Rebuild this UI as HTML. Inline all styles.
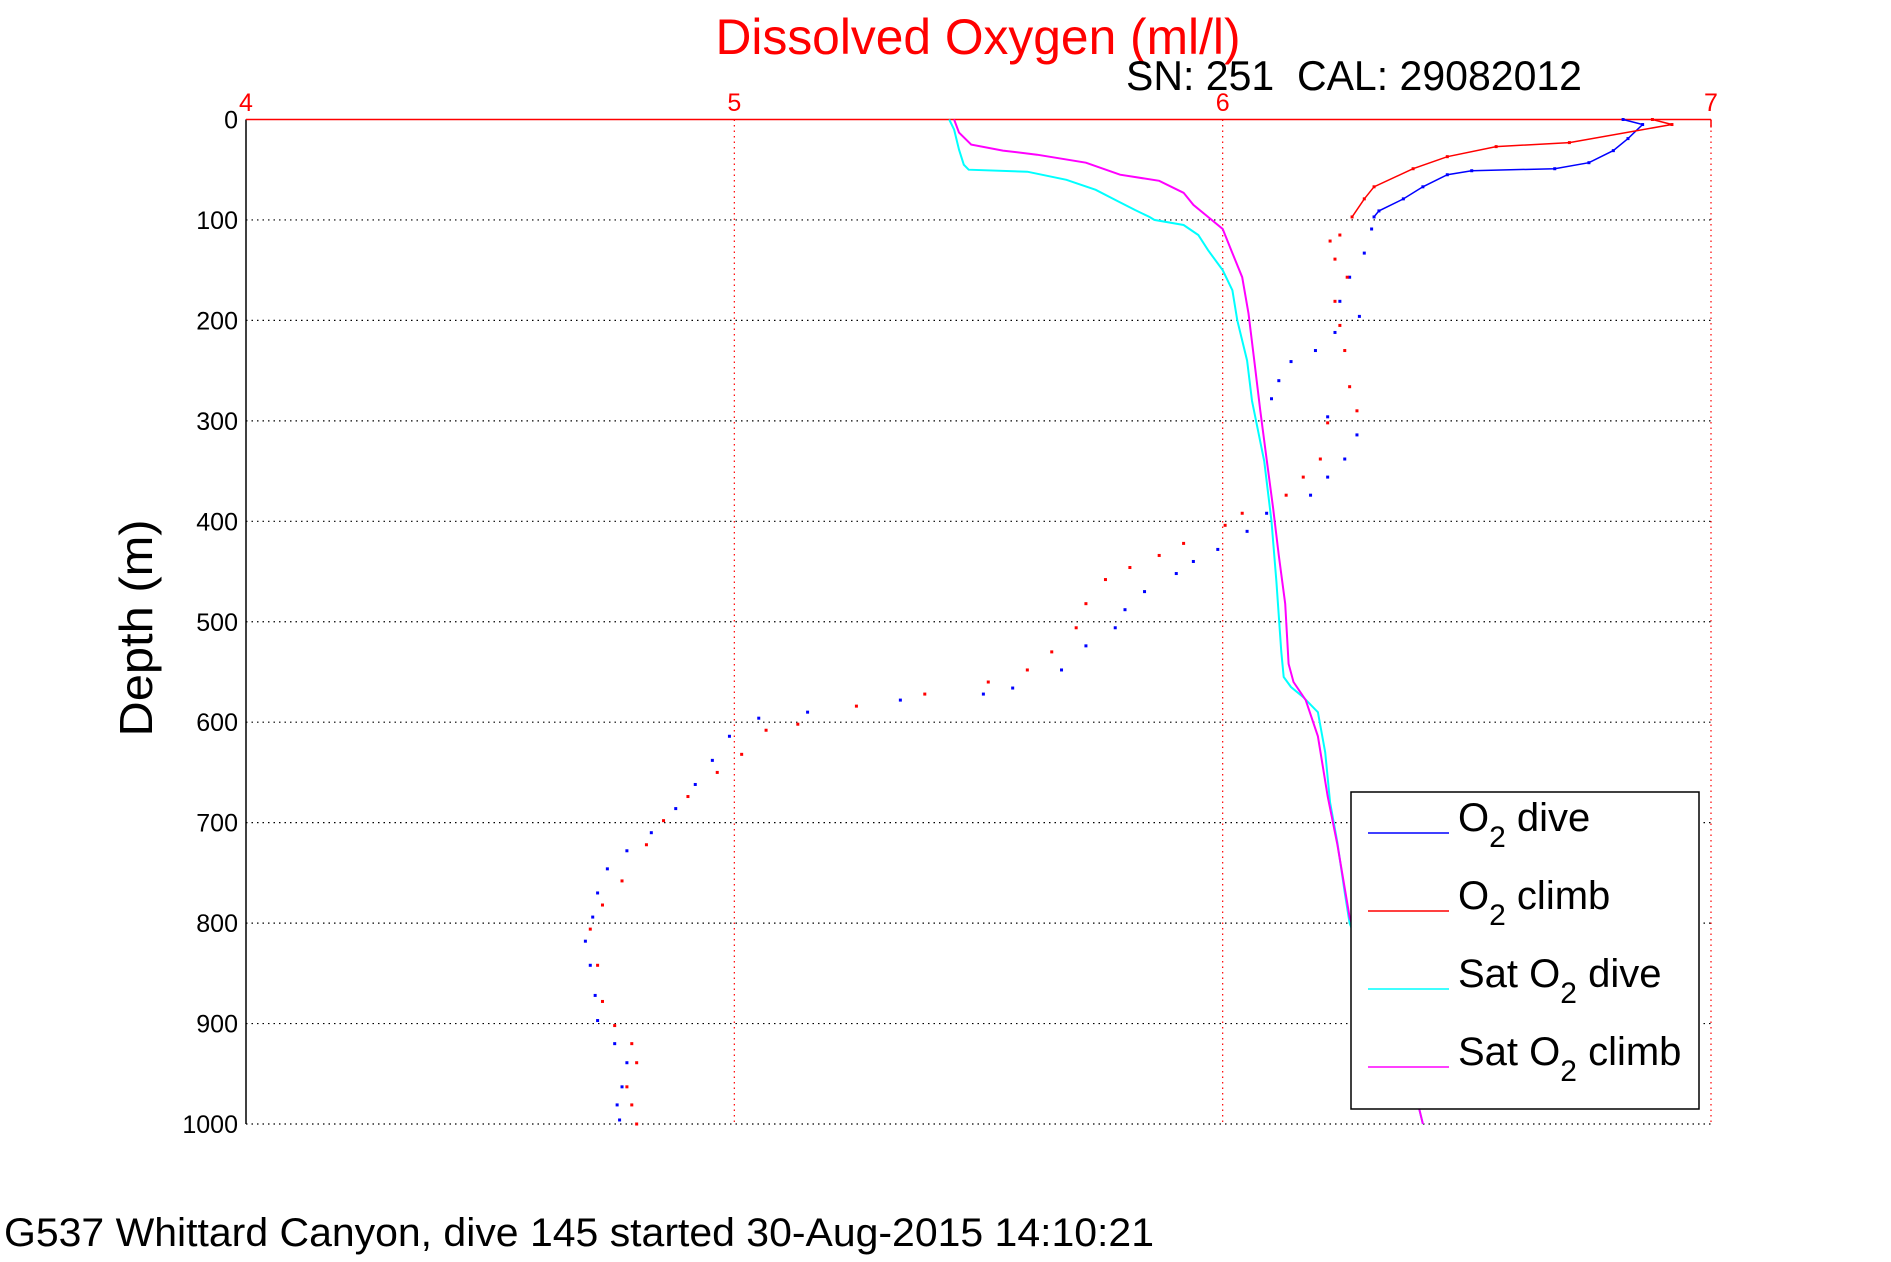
<!DOCTYPE html>
<html><head><meta charset="utf-8"><style>
html,body{margin:0;padding:0;background:#fff;}
svg{display:block;font-family:"Liberation Sans",sans-serif;}
</style></head><body>
<svg id="chart" width="1891" height="1262" viewBox="0 0 1891 1262">
<text x="978" y="54" text-anchor="middle" font-size="50" fill="#ff0000" textLength="525" lengthAdjust="spacingAndGlyphs">Dissolved Oxygen (ml/l)</text>
<text x="1126" y="90" font-size="42" fill="#000" textLength="456" lengthAdjust="spacingAndGlyphs">SN: 251&#160;&#160;CAL: 29082012</text>
<text x="0" y="0" transform="translate(152,628) rotate(-90)" text-anchor="middle" font-size="46" fill="#000" textLength="217" lengthAdjust="spacingAndGlyphs">Depth (m)</text>
<text x="4" y="1246" font-size="40" fill="#000" textLength="1150" lengthAdjust="spacingAndGlyphs">G537 Whittard Canyon, dive 145 started 30-Aug-2015 14:10:21</text>
<g id="grid"></g>
<g id="axes"></g>
<g id="series"></g>
<g id="legend">
<rect x="1351" y="792" width="348" height="317" fill="#fff" stroke="#000" stroke-width="1.5"/>
</g>
</svg>
<script>
const xTicks=[4,5,6,7];
const yTicks=[0,100,200,300,400,500,600,700,800,900,1000];
const diveDepth=[0,5,19,31,43,49,51,55,67,79,91,97,109,133,157,181,196,212,230,241,260,278,296,314,338,356,374,392,410,428,440,452,470,488,506,524,548,566,572,578,590,596,614,638,662,686,710,728,746,770,794,818,842,872,897,920,939,963,981,996];
const diveO2=[6.82,6.86,6.83,6.80,6.75,6.68,6.51,6.46,6.41,6.37,6.32,6.31,6.305,6.29,6.26,6.24,6.28,6.23,6.19,6.14,6.115,6.10,6.215,6.275,6.25,6.215,6.18,6.09,6.05,5.99,5.94,5.905,5.84,5.80,5.78,5.72,5.67,5.57,5.51,5.34,5.15,5.05,4.99,4.955,4.92,4.88,4.83,4.78,4.74,4.72,4.71,4.695,4.705,4.715,4.72,4.755,4.78,4.77,4.76,4.765];
const climbDepth=[0,5,23,27,37,49,67,79,97,115,121,139,157,181,205,230,266,290,302,338,356,374,392,404,422,434,446,458,482,506,530,548,560,572,584,602,608,632,650,674,698,722,758,782,806,842,878,902,920,939,963,981,1000];
const climbO2=[6.88,6.92,6.71,6.56,6.46,6.39,6.31,6.29,6.265,6.24,6.22,6.23,6.255,6.23,6.24,6.25,6.26,6.275,6.215,6.20,6.165,6.13,6.04,6.005,5.92,5.87,5.81,5.76,5.72,5.70,5.65,5.60,5.52,5.39,5.25,5.13,5.065,5.015,4.965,4.905,4.855,4.82,4.77,4.73,4.705,4.72,4.73,4.755,4.79,4.80,4.78,4.79,4.80];
const satDiveDepth=[0,10,30,45,50,52,60,70,80,90,97,100,105,115,130,150,170,200,240,280,340,400,460,530,555,565,575,590,630,680,720,770,800,850,900,960,1000];
const satDiveO2=[5.44,5.45,5.46,5.47,5.48,5.60,5.68,5.74,5.78,5.82,5.85,5.86,5.92,5.95,5.97,6.00,6.02,6.03,6.05,6.06,6.085,6.10,6.11,6.12,6.125,6.14,6.165,6.195,6.21,6.22,6.235,6.25,6.26,6.30,6.34,6.39,6.41];
const satClimbDepth=[0,13,25,31,35,43,55,61,73,85,97,109,133,157,193,241,290,338,386,434,482,542,560,578,614,674,722,794,850,900,960,1000];
const satClimbO2=[5.45,5.46,5.485,5.55,5.62,5.72,5.79,5.87,5.92,5.94,5.97,6.00,6.02,6.04,6.053,6.065,6.077,6.09,6.103,6.115,6.128,6.135,6.145,6.17,6.195,6.215,6.235,6.26,6.30,6.34,6.39,6.41];
const legendLabels=[["O","2"," dive"],["O","2"," climb"],["Sat O","2"," dive"],["Sat O","2"," climb"]];

const L=246,R=1711,T=119.5,B=1124;
function xs(v){return L+(v-4)/(7-4)*(R-L);}
function ys(d){return T+d/1000*(B-T);}
const NS="http://www.w3.org/2000/svg";
function mk(tag,attrs,parent){const e=document.createElementNS(NS,tag);for(const k in attrs)e.setAttribute(k,attrs[k]);parent.appendChild(e);return e;}
const grid=document.getElementById('grid'),axes=document.getElementById('axes'),series=document.getElementById('series'),legend=document.getElementById('legend');

yTicks.forEach(d=>{
  if(d>0&&d<1000){const g=mk('line',{x1:L,x2:R,y1:ys(d),y2:ys(d),stroke:'#000','stroke-width':1.2,'stroke-dasharray':'1.5 4'},grid);
  
  }
  const t=mk('text',{x:238,y:ys(d)+9,'text-anchor':'end','font-size':25,fill:'#000'},axes);
  
  
  t.textContent=d;
});
xTicks.forEach(v=>{
  if(v>4){const g=mk('line',{x1:xs(v),x2:xs(v),y1:T,y2:B,stroke:'#ff0000','stroke-width':1.2,'stroke-dasharray':'1.5 4'},grid);
  
  }
  const t=mk('text',{x:xs(v),y:111,'text-anchor':'middle','font-size':25,fill:'#ff0000'},axes);
  
  
  t.textContent=v;
});
let a=mk('line',{x1:L,x2:R,y1:B,y2:B,stroke:'#000','stroke-width':1.2,'stroke-dasharray':'1.5 4'},axes);


a=mk('line',{x1:L,x2:L,y1:T,y2:B,stroke:'#000','stroke-width':1.5},axes);


a=mk('line',{x1:L,x2:R,y1:T,y2:T,stroke:'#ff0000','stroke-width':1.5},axes);


a=mk('line',{x1:R,x2:R,y1:T,y2:T+8,stroke:'#ff0000','stroke-width':1.5},axes);



function drawLine(depths,vals,color,name,w){
  const pts=depths.map((d,i)=>xs(vals[i]).toFixed(1)+','+ys(d).toFixed(1)).join(' ');
  const p=mk('polyline',{points:pts,fill:'none',stroke:color,'stroke-width':w},series);
  
  
}
function drawDots(depths,vals,color,name){
  const shallowD=[],shallowV=[];
  depths.forEach((d,i)=>{if(d<=100){shallowD.push(d);shallowV.push(vals[i]);}});
  drawLine(shallowD,shallowV,color,name+'-line',1.5);
  depths.forEach((d,i)=>{
    const r=mk('rect',{x:xs(vals[i])-1.5,y:ys(d)-1.5,width:3,height:3,fill:color},series);
    
    
  });
}
drawLine(satDiveDepth,satDiveO2,'#00ffff','sat-o2-dive-line',2);
drawLine(satClimbDepth,satClimbO2,'#ff00ff','sat-o2-climb-line',2);
drawDots(diveDepth,diveO2,'#0000ff','o2-dive');
drawDots(climbDepth,climbO2,'#ff0000','o2-climb');

series.parentNode.appendChild(legend);
const lcolors=['#0000ff','#ff0000','#00ffff','#ff00ff'];
const lnames=['legend-o2-dive','legend-o2-climb','legend-sat-o2-dive','legend-sat-o2-climb'];
legendLabels.forEach((lab,i)=>{
  const y=833+i*78;
  const g=mk('g',{},legend);
  
  
  mk('line',{x1:1368,x2:1449,y1:y,y2:y,stroke:lcolors[i],'stroke-width':1.5},g);
  const t=mk('text',{x:1458,y:y-2,'font-size':40,fill:'#000'},g);
  const s1=mk('tspan',{},t);s1.textContent=lab[0];
  const s2=mk('tspan',{'font-size':30,dy:16},t);s2.textContent=lab[1];
  const s3=mk('tspan',{dy:-16},t);s3.textContent=lab[2];
});
</script>
</body></html>
